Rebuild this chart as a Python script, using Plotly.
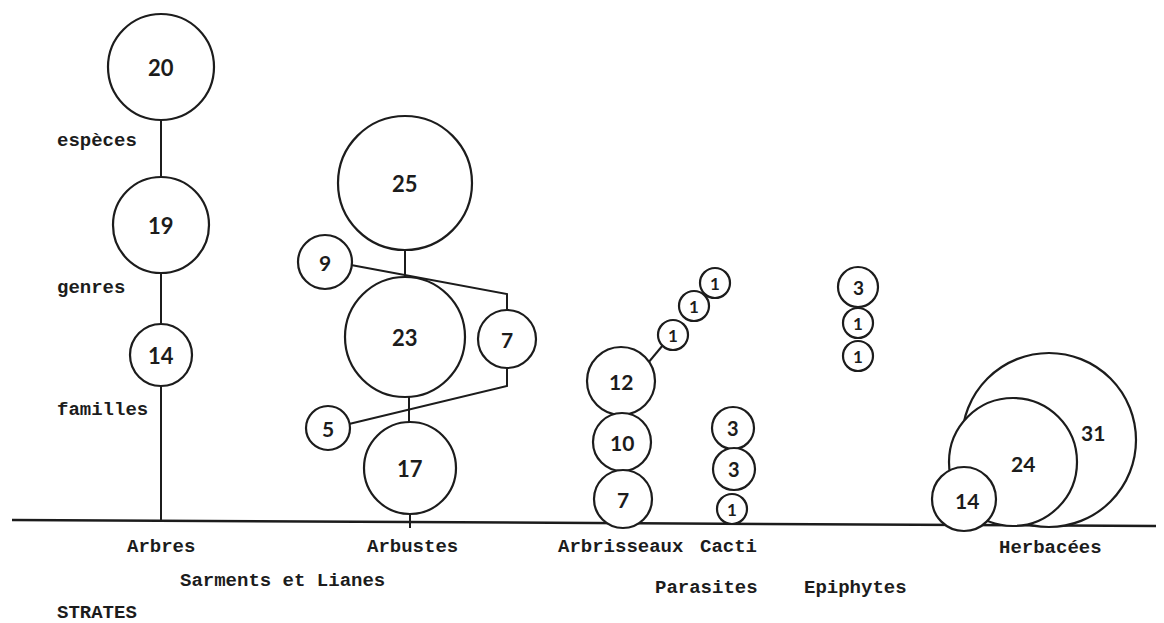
import plotly.graph_objects as go

# counts shown in each circle, per strate
arbres_counts = [20, 19, 14]
arbustes_counts = [25, 23, 17]
sarments_counts = [9, 7, 5]
arbrisseaux_counts = [12, 10, 7]
parasites_counts = [1, 1, 1]
cacti_counts = [3, 3, 1]
epiphytes_counts = [3, 1, 1]
herbacees_counts = [31, 24, 14]

level_labels = ["espèces", "genres", "familles"]
strate_labels = ["Arbres", "Arbustes", "Arbrisseaux", "Cacti", "Herbacées"]
strate_labels_2 = ["Sarments et Lianes", "Parasites", "Epiphytes"]
axis_title = "STRATES"

# geometry (page pixels, y downward): centre x, centre y, radius
arbres_geo = [(161, 67, 53), (161, 225, 48), (161, 355, 31)]
arbustes_geo = [(405, 183, 67), (405, 337, 60), (410, 468, 46)]
sarments_geo = [(325, 262, 27), (507, 339, 29), (328, 428, 22)]
arbrisseaux_geo = [(621, 381, 34), (622, 442, 29), (623, 499, 29)]
parasites_geo = [(715, 283, 15), (694, 306, 15), (673, 335, 15)]
cacti_geo = [(733, 428, 21), (734, 469, 21), (732, 509, 15)]
epiphytes_geo = [(858, 287, 20), (858, 323, 15), (858, 356, 15)]
herbacees_geo = [(1049, 440, 87), (1013, 462, 64), (964, 499, 32)]
herbacees_text = [(1093, 432), (1023, 463), (967, 500)]

level_pos = [(55, 141), (55, 288), (55, 410)]
strate_pos = [(161, 547), (412, 547), (620, 547), (728, 547), (1050, 548)]
strate_pos_2 = [(282, 581), (706, 588), (855, 588)]
title_pos = (55, 613)

W, H = 1164, 623
OFF = 8  # page body margin: the plot div starts 8px in
ink = "#1c1c1c"

fig = go.Figure()


def add_line(xs, ys, width=2):
    fig.add_trace(go.Scatter(x=xs, y=ys, mode="lines", line=dict(color=ink, width=width),
                             hoverinfo="skip", showlegend=False))


# baseline
add_line([12, W + OFF], [520, 526], width=2.5)

# connecting stems
add_line([161, 161], [120, 177])
add_line([161, 161], [273, 324])
add_line([161, 161], [386, 521])
add_line([405, 405], [250, 277])
add_line([409, 409], [397, 422])
add_line([410, 410], [514, 528])
add_line([351, 405, 507, 507], [265, 275, 294, 310])
add_line([507, 507, 349], [368, 386, 424])
add_line([648, 663], [363, 345])

groups = [
    (arbres_counts, arbres_geo, 22),
    (arbustes_counts, arbustes_geo, 22),
    (sarments_counts, sarments_geo, 21),
    (arbrisseaux_counts, arbrisseaux_geo, 21),
    (parasites_counts, parasites_geo, 17),
    (cacti_counts, cacti_geo, 20),
    (epiphytes_counts, epiphytes_geo, 19),
    (herbacees_counts, herbacees_geo, 21),
]

for counts, geo, fsize in groups:
    for (cx, cy, r) in geo:
        fig.add_shape(type="circle", xref="x", yref="y",
                      x0=cx - r, x1=cx + r, y0=cy - r, y1=cy + r,
                      line=dict(color=ink, width=2.2), fillcolor="white", layer="above")
    if counts is herbacees_counts:
        txt = herbacees_text
    else:
        txt = [(g[0], g[1]) for g in geo]
    fsz = [fsize] * len(counts)
    if counts is epiphytes_counts:
        fsz = [fsize, 17, 17]
    if counts is cacti_counts:
        fsz = [fsize, fsize, 17]
    for (x, y), c, s in zip(txt, counts, fsz):
        fig.add_annotation(x=x, y=y, text=str(c), showarrow=False,
                           font=dict(family="Lato", size=s, color=ink, weight="bold"))

mono = dict(family="Liberation Mono", size=19, color=ink, weight="bold")

# level labels
for (x, y), t in zip(level_pos, level_labels):
    fig.add_annotation(x=x, y=y, text=t, showarrow=False, xanchor="left", font=mono)

for (x, y), t in zip(strate_pos + strate_pos_2, strate_labels + strate_labels_2):
    fig.add_annotation(x=x, y=y, text=t, showarrow=False, font=mono)

fig.add_annotation(x=title_pos[0], y=title_pos[1], text=axis_title, showarrow=False,
                   xanchor="left", font=mono)

fig.update_xaxes(range=[OFF, W + OFF], visible=False)
fig.update_yaxes(range=[H + OFF, OFF], visible=False)
fig.update_layout(width=W, height=H, margin=dict(l=0, r=0, t=0, b=0),
                  plot_bgcolor="white", paper_bgcolor="white", showlegend=False)

fig.write_html("out.html")
